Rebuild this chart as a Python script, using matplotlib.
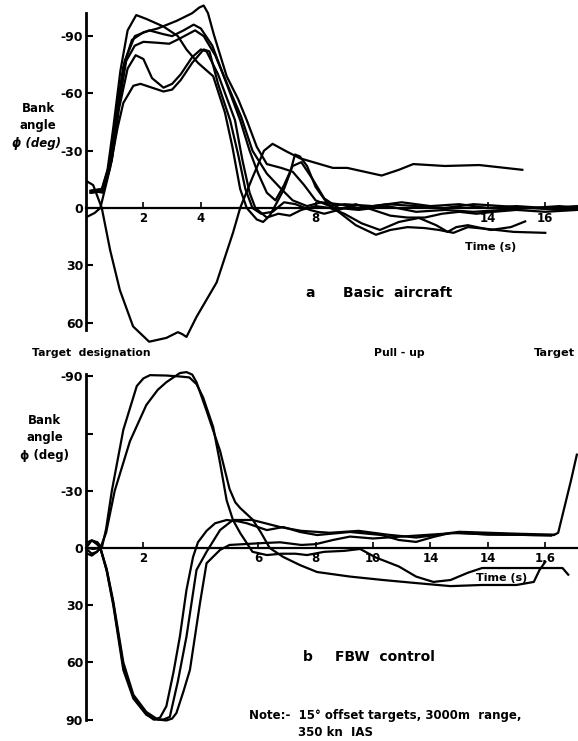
import matplotlib
matplotlib.use("Agg")
import matplotlib.pyplot as plt

plt.rcParams['font.family'] = ['DejaVu Sans']
plt.rcParams['font.weight'] = 'bold'

# ---- panel a: basic aircraft (time s, bank angle deg; negative is up) ----
a1_t = [0.15, 0.55, 0.75, 0.95, 1.2, 1.45, 1.75, 2.1, 2.7, 3.2, 3.5, 3.9, 4.43, 4.84,
        5.1, 5.37, 5.6, 5.95, 6.17, 6.4, 6.64, 6.9, 7.1, 7.28, 7.45, 7.7, 8.0, 8.4,
        8.85, 9.4, 10.1, 10.6, 11.2, 11.8, 12.3, 12.8, 13.3, 14.0, 14.9, 16.0]
a1_phi = [-9, -10, -20, -42, -72, -93, -101, -99, -95, -90, -83, -76, -69, -50,
          -32, -10, 0, 6, 7.3, 4, -2.6, -10, -18, -28, -27, -22, -11, -2.6,
          2.6, 9, 14, 11.5, 10, 10.5, 11.5, 13, 10, 11, 12.5, 13]

a2_t = [0.15, 0.55, 0.8, 1.0, 1.3, 1.6, 2.0, 2.5, 3.16, 3.7, 3.95, 4.1, 4.25, 4.45,
        4.9, 5.3, 5.6, 5.95, 6.3, 6.8, 7.2, 7.6, 8.0, 8.5, 9.0, 10.0, 11.0, 12.0,
        13.0, 14.0, 15.0, 16.0, 17.1]
a2_phi = [-8, -9, -22, -45, -74, -88, -92, -94, -98, -102, -105, -106, -102, -91,
          -69, -57, -46, -32, -23, -21, -19, -12, -4, -1, -2, -1, -3, -1,
          -2, 0, -1, 0, -1]

a3_t = [0.2, 0.6, 0.85, 1.05, 1.35, 1.7, 2.2, 2.7, 3.0, 3.4, 3.75, 4.0, 4.4, 4.9,
        5.37, 5.7, 6.0, 6.3, 6.6, 6.9, 7.2, 7.5, 7.9, 8.3, 8.8, 9.5, 10.5, 11.5,
        12.5, 13.5, 14.5, 15.5, 16.5, 17.1]
a3_phi = [-9, -10, -25, -48, -77, -90, -93, -91, -90, -93, -96, -94, -85, -65,
          -46, -30, -18, -8, -4, -12, -22, -24, -15, -5, 0, 1, -1, 2,
          1, 2, 1, 0, 1, 1]

a4_t = [0.2, 0.6, 0.9, 1.1, 1.4, 1.7, 2.0, 2.5, 2.9, 3.3, 3.8, 4.1, 4.5, 5.0,
        5.4, 5.8, 6.3, 6.8, 7.2, 7.7, 8.2, 8.8, 9.5, 10.5, 11.5, 12.5, 13.5,
        14.5, 15.5, 16.5, 17.1]
a4_phi = [-8, -9, -26, -50, -77, -85, -87, -86.5, -86, -89, -93, -90, -80, -62,
          -48, -30, -18, -10, -4, -1, -3, -2, 0, -2, -1, 0, -2,
          -1, 0, -1, 0]

a5_t = [0.2, 0.6, 0.9, 1.15, 1.45, 1.73, 2.0, 2.3, 2.7, 3.0, 3.3, 3.7, 4.0, 4.2,
        4.6, 5.19, 5.45, 5.7, 5.9, 6.3, 6.7, 7.1, 7.5, 8.0, 8.5, 9.0, 9.6, 10.24,
        10.9, 11.6, 12.2, 12.6, 12.9, 13.3, 14.1, 14.8, 15.3]
a5_phi = [-9, -8, -25, -52, -73, -80, -78, -68, -63, -65, -70, -79, -83, -82,
          -70, -46, -25, -8, 0, 5, 3, 4, 1, -1, 0, 3, 8, 11.5,
          7.3, 5.2, 9, 12.5, 10, 9, 11.5, 10, 7]

a6_t = [0.05, 0.3, 0.5, 0.84, 1.1, 1.3, 1.65, 1.9, 2.3, 2.7, 3.0, 3.3, 3.7, 4.1,
        4.3, 4.6, 5.02, 5.3, 5.55, 5.8, 6.1, 6.5, 6.9, 7.3, 7.8, 8.3, 8.8, 9.4,
        10.0, 10.6, 11.2, 11.8, 12.4, 13.0, 13.6, 14.2, 15.0, 16.0, 17.1]
a6_phi = [4.5, 2.6, 0, -21, -42, -55, -64, -65, -63, -61, -62, -67, -76, -83,
          -82, -65, -46, -28, -10, 0, 3, 2, -3, -2, 1, 3, 1, -2,
          1, 4, 5, 5, 3, 2, 3, 2, 1, 2, 1]

a7_t = [0.05, 0.25, 0.55, 0.84, 1.18, 1.64, 2.2, 2.8, 3.2, 3.35, 3.5, 3.85, 4.55,
        5.12, 5.37, 5.8, 6.2, 6.5, 7.0, 7.46, 8.6, 9.1, 10.3, 10.9, 11.4, 12.5,
        13.7, 15.2]
a7_phi = [-13.8, -12, 0, 22, 43, 62, 70, 68, 65, 66, 67.5, 57, 39,
          13, 0, -16, -30, -33.6, -29.5, -26, -21, -21, -17, -20, -23, -22,
          -22.5, -20]

# ---- panel b: FBW control ----
b1_t = [0.05, 0.2, 0.4, 0.55, 0.7, 0.9, 1.3, 1.77, 2.0, 2.23, 2.8, 3.27, 3.6, 3.85,
        4.08, 4.43, 4.67, 4.9, 5.12, 5.37, 5.6, 5.8, 6.3, 6.8, 7.3, 7.7, 8.3, 9.0,
        9.55, 10.1, 10.9, 11.5, 12.1, 12.7, 13.3, 13.8, 15.0, 16.6, 16.8]
b1_phi = [-1, -4, -3, 0, -10, -30, -62, -85, -89, -90.7, -90.5, -90, -89.5, -86,
          -79, -63.5, -44.6, -25, -14.7, -7.9, -2.6, 2, 3.7, 3, 3, 3.7, 2, 1.5,
          0.5, 5, 9.7, 15, 17.8, 16.8, 13, 10.5, 10.5, 10.5, 14]

b2_t = [0.05, 0.2, 0.38, 0.5, 0.7, 1.0, 1.53, 2.1, 2.5, 2.8, 3.27, 3.5, 3.7, 3.85,
        4.2, 4.67, 5.0, 5.2, 5.37, 5.8, 6.1, 6.4, 6.87, 7.46, 8.05, 9.2, 10.35,
        11.5, 12.7, 13.8, 15.0, 15.6, 15.8, 16.0]
b2_phi = [1, 3, 2, 0, -8, -30, -56, -75, -83, -87, -91.8, -92.3, -91, -87,
          -72, -51, -31, -24, -21, -15, -8, 0, 4.7, 9, 12.6, 15, 16.8,
          18.4, 20, 19.4, 19.4, 17.8, 11.5, 7.3]

b3_t = [0.05, 0.2, 0.38, 0.5, 0.72, 0.95, 1.3, 1.65, 2.1, 2.35, 2.58, 2.8, 3.05,
        3.27, 3.5, 3.73, 3.9, 4.2, 4.5, 4.9, 5.3, 5.6, 6.3, 6.87, 7.46, 8.05, 9.2,
        10.3, 10.9, 11.5, 12.1, 12.7, 13.5, 14.5, 15.6, 16.3, 16.45, 16.9, 17.1]
b3_phi = [-3, -4, -2, 0, 11.5, 29, 62, 78, 87, 90, 89, 83, 65,
          46.5, 22, 4.7, -3, -9, -13, -14.7, -14, -13, -9.4, -11, -8.4, -6.8, -8.4,
          -6.8, -4.2, -3.2, -5.8, -7.9, -7.5, -7, -6.8, -6.8, -8, -35.7, -49]

b4_t = [0.05, 0.2, 0.38, 0.5, 0.72, 0.95, 1.3, 1.65, 2.1, 2.4, 2.7, 2.92, 3.2, 3.5,
        3.85, 4.2, 4.67, 5.12, 5.8, 6.76, 7.5, 8.5, 9.5, 10.5, 11.5, 12.3, 13.0,
        14.0, 15.0, 16.3]
b4_phi = [3, 4, 2, 0, 12, 30, 64, 79, 87.5, 90, 90, 88.6, 70, 46.5,
          11.5, 2, -9.4, -14.7, -14.7, -11, -9, -8, -9, -7, -5.5, -7, -8.5,
          -8, -7.5, -7]

b5_t = [0.05, 0.25, 0.5, 0.72, 0.95, 1.3, 1.65, 2.1, 2.5, 2.8, 3.0, 3.15, 3.4, 3.62,
        3.97, 4.2, 4.67, 5.0, 6.17, 6.76, 7.5, 8.0, 8.6, 9.2, 10.0, 11.0, 12.0,
        13.0, 14.0, 15.0, 16.2]
b5_phi = [0, 0.5, 0, 11, 28, 60, 77, 86, 90, 90.5, 89.5, 86.6, 75, 64,
          29, 8, 1, -1.6, -2.6, -3, -1.6, -2, -4.2, -6, -5, -6, -7,
          -8, -7, -7, -6.5]

a_yticks = [-90, -60, -30, 0, 30, 60]
a_ylabels = ['-90', '-60', '-30', '0', '30', '60']
a_xticks = [2, 4, 8, 14, 16]
a_xlabels = ['2', '4', '8', '14', '16']

b_yticks = [-90, -60, -30, 0, 30, 60, 90]
b_ylabels = ['-90', '', '-30', '0', '30', '60', '90']
b_xticks = [2, 6, 8, 10, 12, 14, 16]
b_xlabels = ['2', '6', '8', '10', '14', '14', '1,6']

W, H = 578, 741
fig = plt.figure(figsize=(W / 100, H / 100), dpi=100)


def px_axes(top, bottom):
    # axes from pixel x=86 to right edge, between two pixel rows
    return fig.add_axes([86 / W, 1 - bottom / H, (W - 86) / W, (bottom - top) / H],
                        facecolor='none')


def style_axes(ax, ylim, spine_span, yticks, ylabels, xticks, xlabels):
    ax.set_xlim(0, 17.14)
    ax.set_ylim(*ylim)
    for s in ['top', 'right']:
        ax.spines[s].set_visible(False)
    ax.spines['left'].set_bounds(*spine_span)
    ax.spines['left'].set_linewidth(2.0)
    ax.spines['bottom'].set_position(('data', 0))
    ax.spines['bottom'].set_linewidth(1.6)
    ax.set_yticks(yticks)
    ax.set_yticklabels(ylabels)
    ax.set_xticks(xticks)
    ax.set_xticklabels(xlabels)
    ax.tick_params(axis='y', direction='in', length=5, width=1.5, pad=2, labelsize=9)
    ax.tick_params(axis='x', direction='in', length=4, width=1.2, pad=3, labelsize=8.5)


ax_a = px_axes(0, 340)
for t, p in [(a1_t, a1_phi), (a2_t, a2_phi), (a3_t, a3_phi), (a4_t, a4_phi),
             (a5_t, a5_phi), (a6_t, a6_phi), (a7_t, a7_phi)]:
    ax_a.plot(t, p, color='black', lw=1.6, solid_joinstyle='round', clip_on=False)
style_axes(ax_a, (69.1, -108.9), (64, -102), a_yticks, a_ylabels, a_xticks, a_xlabels)

ax_b = px_axes(362, 730)
for t, p in [(b1_t, b1_phi), (b2_t, b2_phi), (b3_t, b3_phi), (b4_t, b4_phi),
             (b5_t, b5_phi)]:
    ax_b.plot(t, p, color='black', lw=1.6, solid_joinstyle='round', clip_on=False)
style_axes(ax_b, (95.5, -97.6), (90, -91.5), b_yticks, b_ylabels, b_xticks, b_xlabels)


def ftext(x, y, s, size=8.5, ha='left', **kw):
    fig.text(x / W, 1 - y / H, s, fontsize=size, ha=ha, va='center',
             fontweight='bold', **kw)


# y axis titles
ftext(38, 108, 'Bank', ha='center')
ftext(38, 125, 'angle', ha='center')
ftext(36, 143, 'ϕ (deg)', ha='center', style='italic')
ftext(44, 420, 'Bank', ha='center')
ftext(45, 437, 'angle', ha='center')
ftext(45, 455, 'ϕ (deg)', ha='center')

ftext(491, 247, 'Time (s)', ha='center', size=8)
ftext(502, 578, 'Time (s)', ha='center', size=8)

ftext(305, 293, 'a', size=10)
ftext(343, 293, 'Basic  aircraft', size=10)
ftext(303, 657, 'b', size=10)
ftext(335, 657, 'FBW  control', size=10)

ftext(32, 353, 'Target  designation', size=7.8)
ftext(399, 353, 'Pull - up', size=7.8, ha='center')
ftext(554, 353, 'Target', size=8.2, ha='center')

ftext(249, 715, 'Note:-  15° offset targets, 3000m  range,', size=8.5)
ftext(298, 733, '350 kn  IAS', size=8.5)

fig.savefig('out.png', dpi=100)
